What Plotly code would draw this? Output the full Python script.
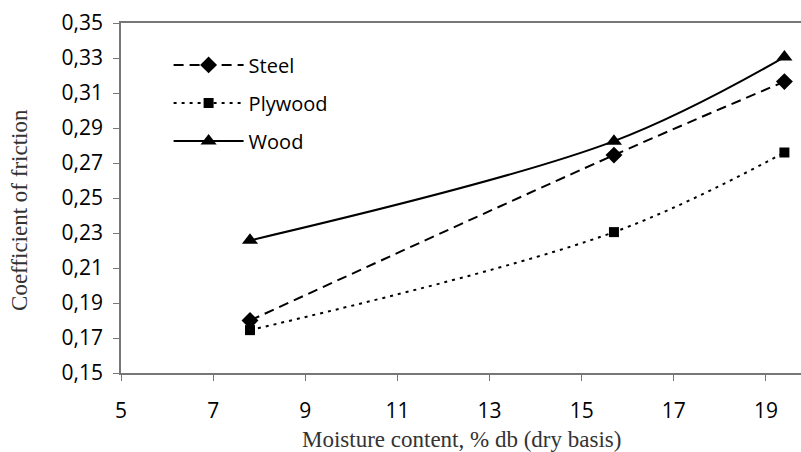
import plotly.graph_objects as go

moisture = [7.8, 15.7, 19.4]
steel = [0.180, 0.2745, 0.3165]
plywood = [0.1745, 0.2305, 0.276]
wood = [0.2258, 0.2825, 0.3305]

series_names = ["Steel", "Plywood", "Wood"]
x_ticks = [5, 7, 9, 11, 13, 15, 17, 19]
y_ticks = [0.15, 0.17, 0.19, 0.21, 0.23, 0.25, 0.27, 0.29, 0.31, 0.33, 0.35]

fig = go.Figure()
styles = [
    dict(dash="10px,6px", symbol="diamond", size=13),
    dict(dash="3px,5px", symbol="square", size=10),
    dict(dash="solid", symbol="triangle-up", size=14),
]
for i, (name, ys, st) in enumerate(zip(series_names, [steel, plywood, wood], styles)):
    fig.add_trace(go.Scatter(
        x=moisture, y=ys, name=name, mode="lines+markers",
        line=dict(color="black", width=2, dash=st["dash"], shape="spline", smoothing=1.0),
        marker=dict(symbol=st["symbol"], size=st["size"], color="black"),
        legendgroup=name,
    ))

fig.update_layout(
    width=801, height=452,
    margin=dict(l=121, r=0, t=23, b=79),
    paper_bgcolor="white", plot_bgcolor="white",
    separators=",.",
    showlegend=True,
    legend=dict(x=0.07, y=0.936, xanchor="left", yanchor="top",
                font=dict(family="Open Sans", size=20, color="black"),
                bgcolor="rgba(0,0,0,0)", tracegroupgap=9, itemwidth=70),
    font=dict(family="Open Sans", size=20, color="black"),
)
fig.update_xaxes(
    range=[5, 19.76], tickvals=x_ticks, showgrid=False, zeroline=False,
    showline=True, linecolor="#777", linewidth=1.5, mirror=True,
    ticks="outside", ticklen=6, tickcolor="#777",
    ticklabelstandoff=12,
    tickfont=dict(family="Open Sans", size=21, color="black"),
)
fig.update_yaxes(
    range=[0.15, 0.35], tickvals=y_ticks, tickformat=".2f", showgrid=False, zeroline=False,
    showline=True, linecolor="#777", linewidth=1.5,
    ticks="outside", ticklen=6, tickcolor="#777",
    ticklabelstandoff=6,
    tickfont=dict(family="Open Sans", size=21, color="black"),
)
fig.add_annotation(text="Moisture content, % db (dry basis)", xref="paper", yref="paper",
                   x=0.5, y=-0.19, xanchor="center", yanchor="middle", showarrow=False,
                   font=dict(family="Liberation Serif", size=23, color="#333"))
fig.add_annotation(text="Coefficient of friction", xref="paper", yref="paper",
                   x=-0.149, y=0.465, xanchor="center", yanchor="middle", showarrow=False,
                   textangle=-90,
                   font=dict(family="Liberation Serif", size=23, color="#333"))

fig.write_html("out.html", config={"displayModeBar": False},
               post_script="document.body.style.margin='0';")
